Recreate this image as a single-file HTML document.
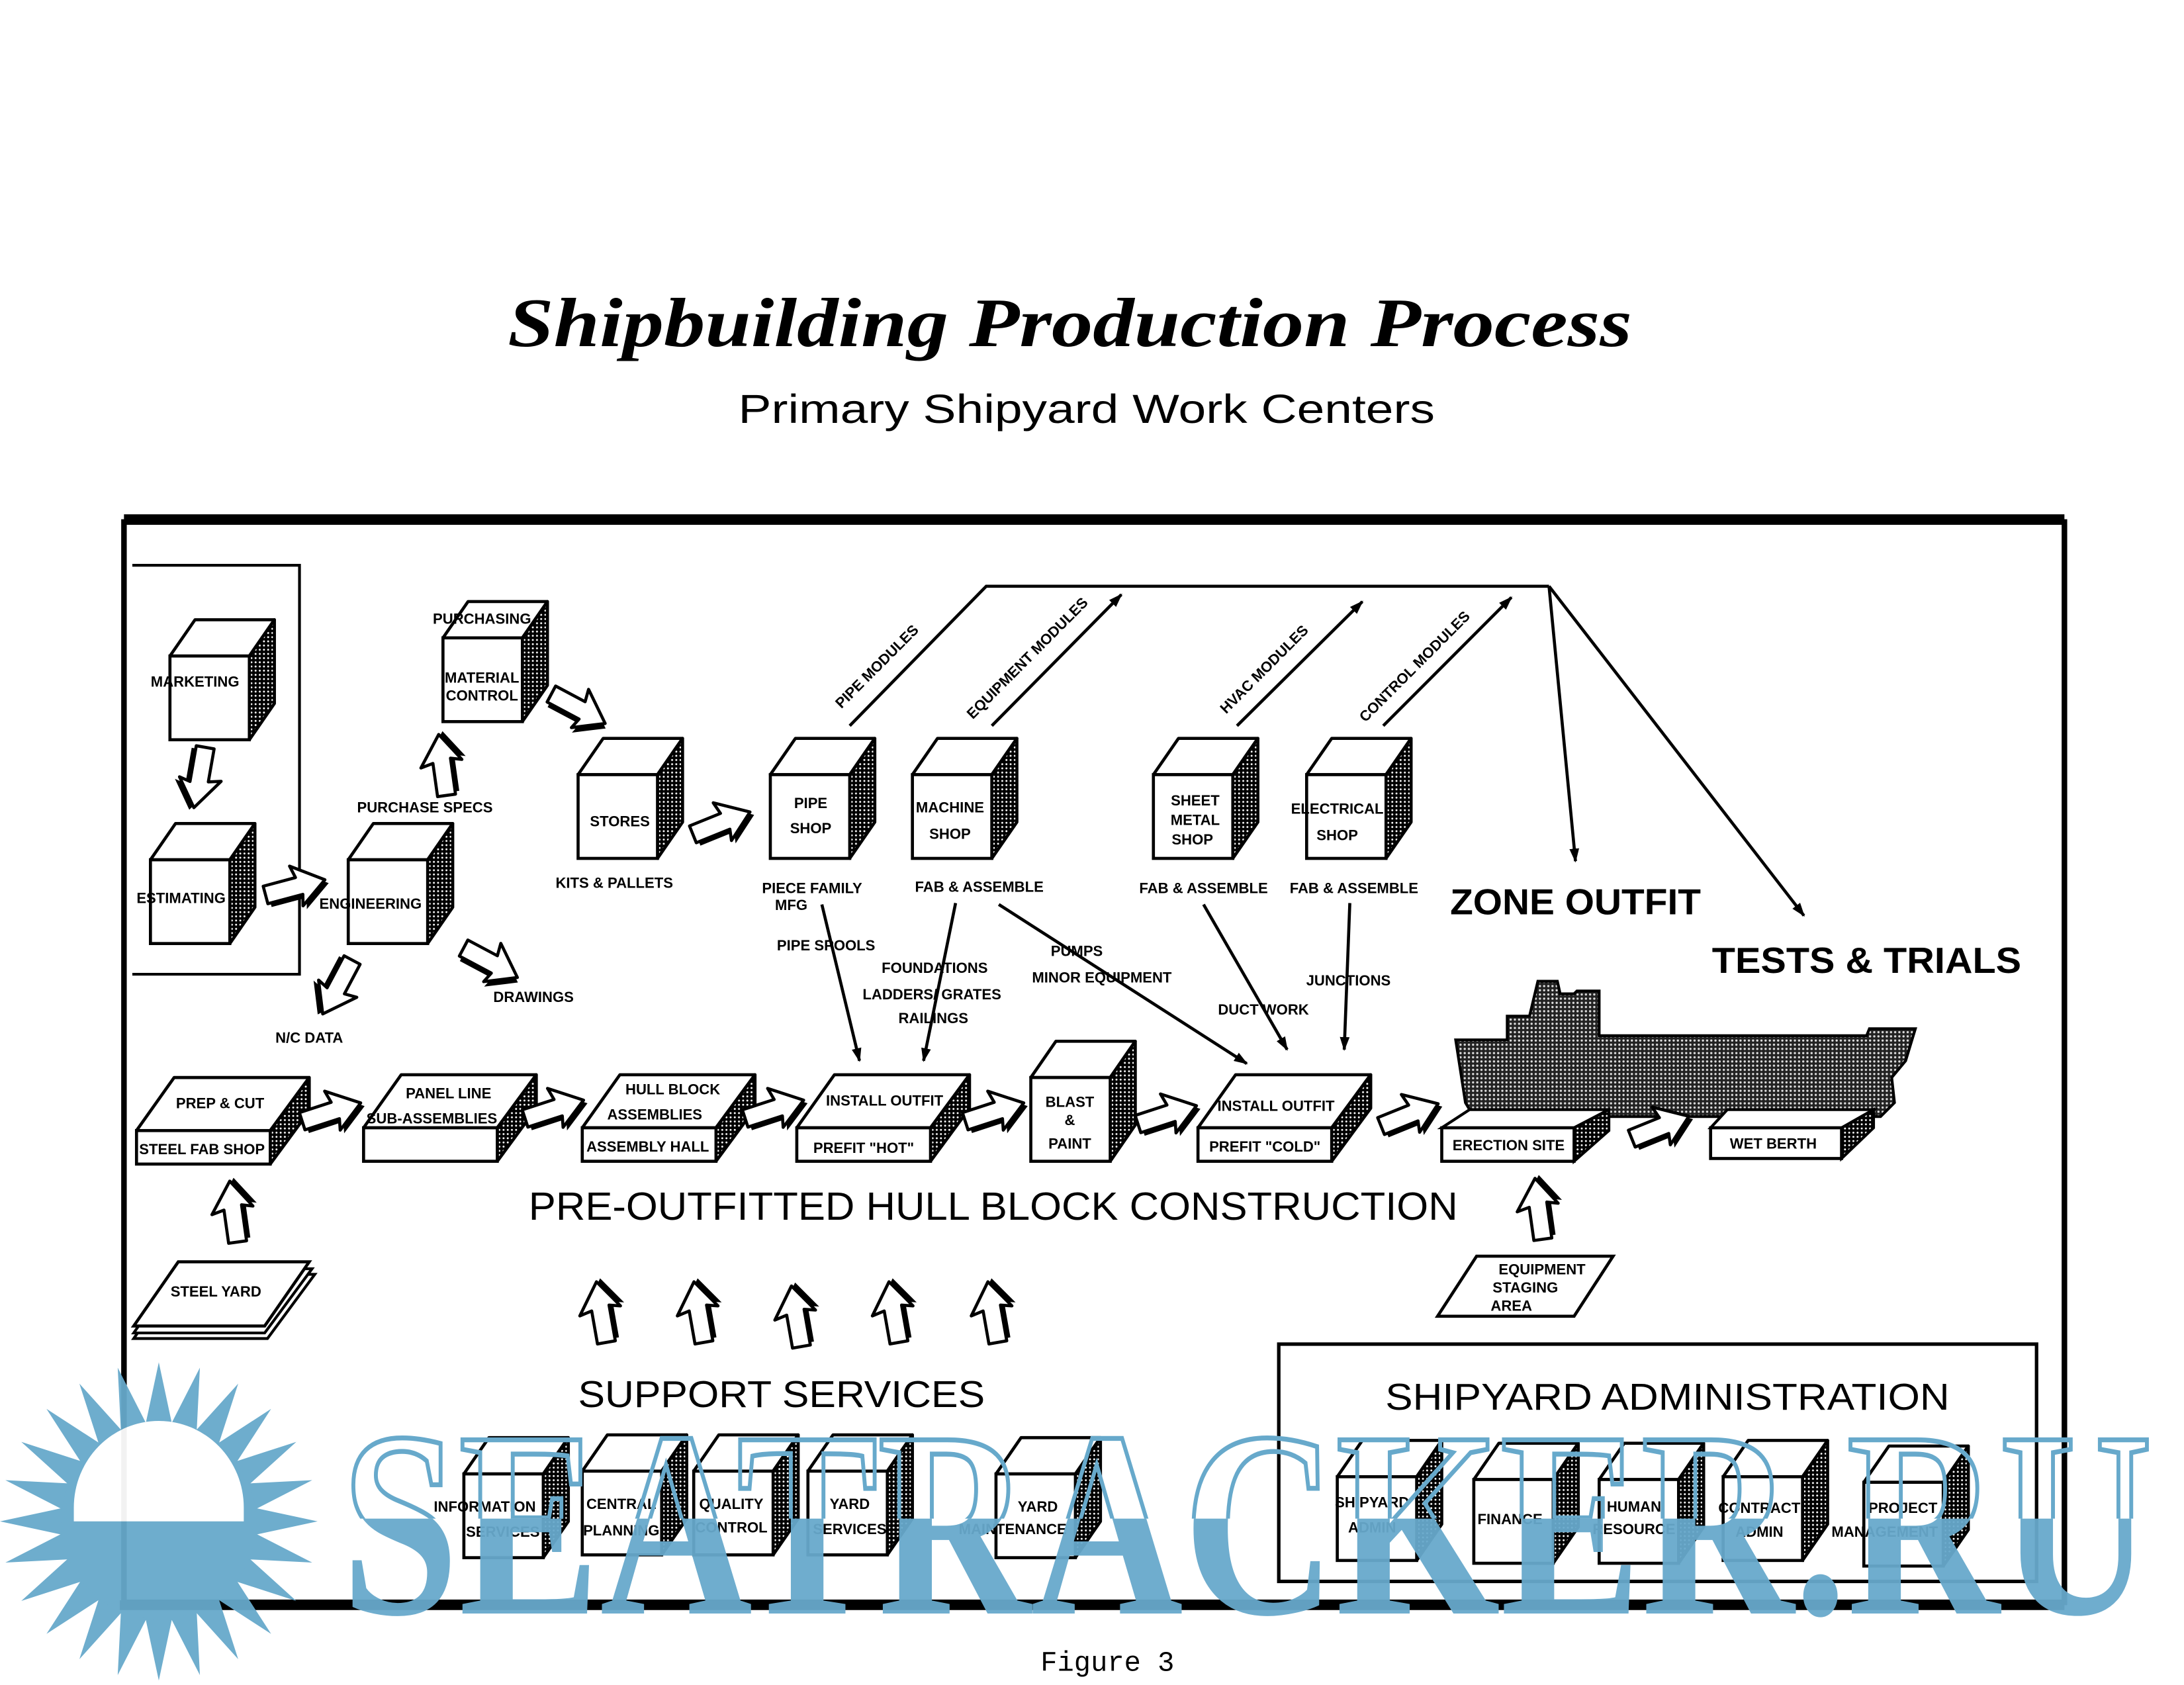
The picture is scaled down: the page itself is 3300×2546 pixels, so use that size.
<!DOCTYPE html>
<html><head><meta charset="utf-8">
<style>
html,body{margin:0;padding:0;background:#fff;}
svg{display:block;}
.l{font-family:"Liberation Sans",sans-serif;font-weight:bold;font-size:10.5px;fill:#000;text-anchor:middle;}
.b{font-family:"Liberation Sans",sans-serif;font-weight:bold;fill:#000;text-anchor:middle;}
.r{font-family:"Liberation Sans",sans-serif;fill:#000;text-anchor:middle;}
</style></head>
<body>
<svg width="3300" height="2546" viewBox="0 0 1560 1203.6" preserveAspectRatio="none" xmlns="http://www.w3.org/2000/svg">
<defs>
<pattern id="dots" width="3" height="3" patternUnits="userSpaceOnUse">
<rect width="3" height="3" fill="#000"/><circle cx="1.5" cy="1.5" r="0.7" fill="#fff"/>
</pattern>
<pattern id="sdots" width="3" height="3" patternUnits="userSpaceOnUse">
<rect width="3" height="3" fill="#222"/><circle cx="1.5" cy="1.5" r="0.8" fill="#ddd"/>
</pattern>
<g id="cube">
<polygon points="0,0 18,-26 75,-26 57,0" fill="#fff" stroke="#000" stroke-width="2.2" stroke-linejoin="round"/>
<polygon points="57,0 75,-26 75,34 57,60" fill="url(#dots)" stroke="#000" stroke-width="2.2" stroke-linejoin="round"/>
<rect x="0" y="0" width="57" height="60" fill="#fff" stroke="#000" stroke-width="2.2"/>
</g>
<g id="slab">
<polygon points="0,0 27,-38 124,-38 96,0" fill="#fff" stroke="#000" stroke-width="2.2" stroke-linejoin="round"/>
<polygon points="96,0 124,-38 124,-14 96,24" fill="url(#dots)" stroke="#000" stroke-width="2.2" stroke-linejoin="round"/>
<rect x="0" y="0" width="96" height="24" fill="#fff" stroke="#000" stroke-width="2.2"/>
</g>
<g id="arr">
<path d="M-20,-4 L4,-4 L2,-13 L24,3 L4,17 L6,9 L-20,9 Z" fill="#000"/>
<path d="M-22,-7 L2,-7 L0,-16 L22,0 L2,14 L4,6 L-22,6 Z" fill="#fff" stroke="#000" stroke-width="2.2" stroke-linejoin="round"/>
</g>
<g id="ray"><polygon points="0,-114 -12,-58 12,-58" fill="#67a9cb"/></g>
<clipPath id="lower"><rect x="0" y="1088" width="1560" height="200"/></clipPath>
<clipPath id="upper"><rect x="0" y="900" width="1560" height="188"/></clipPath>
<marker id="ah" markerWidth="10" markerHeight="10" refX="9" refY="5" orient="auto" markerUnits="userSpaceOnUse">
<path d="M0,1.5 L10,5 L0,8.5 Z" fill="#000"/>
</marker>
</defs>

<rect width="1560" height="1204" fill="#fff"/>
<g transform="scale(0.995,0.997)">

<text x="768" y="248" font-family="Liberation Serif,serif" font-weight="bold" font-style="italic" font-size="50" text-anchor="middle" textLength="807" lengthAdjust="spacingAndGlyphs">Shipbuilding Production Process</text>
<text x="780" y="303" class="r" font-size="29" textLength="500" lengthAdjust="spacingAndGlyphs">Primary Shipyard Work Centers</text>

<rect x="89" y="374" width="1393" height="774" fill="none" stroke="#000" stroke-width="4"/>
<line x1="89" y1="372" x2="1482" y2="372" stroke="#000" stroke-width="7"/>
<line x1="86" y1="1150" x2="1482" y2="1150" stroke="#000" stroke-width="7"/>
<polyline points="95,405 215,405 215,698 95,698" fill="none" stroke="#000" stroke-width="2"/>
<rect x="918" y="963" width="544" height="170" fill="none" stroke="#000" stroke-width="2.5"/>

<g stroke="#000" stroke-width="2.2" fill="none">
<polyline points="610,520 708,420 1112,420"/>
<line x1="712" y1="520" x2="805" y2="426" marker-end="url(#ah)"/>
<line x1="888" y1="520" x2="978" y2="431" marker-end="url(#ah)"/>
<line x1="993" y1="520" x2="1085" y2="428" marker-end="url(#ah)"/>
<line x1="1112" y1="420" x2="1131" y2="617" marker-end="url(#ah)"/>
<line x1="1112" y1="420" x2="1295" y2="656" marker-end="url(#ah)"/>
<line x1="590" y1="648" x2="617" y2="760" marker-end="url(#ah)"/>
<line x1="686" y1="647" x2="663" y2="760" marker-end="url(#ah)"/>
<line x1="717" y1="648" x2="895" y2="762" marker-end="url(#ah)"/>
<line x1="864" y1="648" x2="924" y2="752" marker-end="url(#ah)"/>
<line x1="969" y1="647" x2="965" y2="752" marker-end="url(#ah)"/>
</g>

<g class="l" font-size="10">
<text transform="translate(632,480) rotate(-45)">PIPE MODULES</text>
<text transform="translate(740,474) rotate(-45)">EQUIPMENT MODULES</text>
<text transform="translate(910,482) rotate(-45)">HVAC MODULES</text>
<text transform="translate(1018,480) rotate(-45)">CONTROL MODULES</text>
</g>

<use href="#cube" x="122" y="470"/>
<use href="#cube" x="108" y="616"/>
<use href="#cube" x="250" y="616"/>
<use href="#cube" x="318" y="457"/>
<use href="#cube" x="415" y="555"/>
<use href="#cube" x="553" y="555"/>
<use href="#cube" x="655" y="555"/>
<use href="#cube" x="828" y="555"/>
<use href="#cube" x="938" y="555"/>
<use href="#cube" x="740" y="772"/>
<use href="#cube" x="333" y="1056"/>
<use href="#cube" x="418" y="1054"/>
<use href="#cube" x="498" y="1054"/>
<use href="#cube" x="580" y="1054"/>
<use href="#cube" x="715" y="1056"/>
<use href="#cube" x="960" y="1058"/>
<use href="#cube" x="1058" y="1060"/>
<use href="#cube" x="1148" y="1060"/>
<use href="#cube" x="1237" y="1058"/>
<use href="#cube" x="1338" y="1062"/>

<use href="#slab" x="98" y="810"/>
<use href="#slab" x="261" y="808"/>
<use href="#slab" x="418" y="808"/>
<use href="#slab" x="572" y="808"/>
<use href="#slab" x="860" y="808"/>

<path d="M1045,745 L1082,745 L1082,728 L1098,728 L1104,703 L1118,703 L1120,712 L1130,712 L1132,710 L1148,710 L1148,742 L1340,742 L1342,737 L1375,737 L1368,760 L1358,772 L1360,790 L1350,800 L1058,800 L1052,790 Z" fill="url(#sdots)" stroke="#000" stroke-width="2"/>
<polygon points="1035,808 1055,795 1155,795 1130,808" fill="#fff" stroke="#000" stroke-width="2"/>
<polygon points="1130,808 1155,795 1155,810 1130,832" fill="url(#dots)" stroke="#000" stroke-width="2"/>
<rect x="1035" y="808" width="95" height="24" fill="#fff" stroke="#000" stroke-width="2.2"/>
<polygon points="1228,808 1240,795 1345,795 1322,808" fill="#fff" stroke="#000" stroke-width="2"/>
<polygon points="1322,808 1345,795 1345,808 1322,830" fill="url(#dots)" stroke="#000" stroke-width="2"/>
<rect x="1228" y="808" width="94" height="22" fill="#fff" stroke="#000" stroke-width="2.2"/>

<polygon points="96,959 128,913 226,913 192,959" fill="#fff" stroke="#000" stroke-width="2"/>
<polygon points="96,955 128,909 224,909 190,955" fill="#fff" stroke="#000" stroke-width="2"/>
<polygon points="96,950 128,904 222,904 190,950" fill="#fff" stroke="#000" stroke-width="2.2"/>
<polygon points="1032,943 1060,900 1158,900 1130,943" fill="#fff" stroke="#000" stroke-width="2.2"/>

<use href="#arr" transform="translate(212,636) rotate(-15)"/>
<use href="#arr" transform="translate(415,508) rotate(28)"/>
<use href="#arr" transform="translate(518,590) rotate(-22)"/>
<use href="#arr" transform="translate(352,690) rotate(28)"/>
<use href="#arr" transform="translate(242,707) rotate(118)"/>
<use href="#arr" transform="translate(143,557) rotate(100)"/>
<use href="#arr" transform="translate(318,548) rotate(-98)"/>
<use href="#arr" transform="translate(238,797) rotate(-18)"/>
<use href="#arr" transform="translate(398,795) rotate(-18)"/>
<use href="#arr" transform="translate(556,795) rotate(-18)"/>
<use href="#arr" transform="translate(714,797) rotate(-18)"/>
<use href="#arr" transform="translate(838,799) rotate(-18)"/>
<use href="#arr" transform="translate(1012,799) rotate(-22)"/>
<use href="#arr" transform="translate(1192,808) rotate(-22)"/>
<use href="#arr" transform="translate(168,868) rotate(-98)"/>
<use href="#arr" transform="translate(1105,866) rotate(-98)"/>
<use href="#arr" transform="translate(432,940) rotate(-100)"/>
<use href="#arr" transform="translate(502,940) rotate(-100)"/>
<use href="#arr" transform="translate(572,943) rotate(-100)"/>
<use href="#arr" transform="translate(642,940) rotate(-100)"/>
<use href="#arr" transform="translate(713,940) rotate(-100)"/>

<g class="l">
<text x="140" y="492">MARKETING</text>
<text x="130" y="647">ESTIMATING</text>
<text x="266" y="651">ENGINEERING</text>
<text x="346" y="447">PURCHASING</text>
<text x="346" y="489">MATERIAL</text>
<text x="346" y="502">CONTROL</text>
<text x="305" y="582">PURCHASE SPECS</text>
<text x="445" y="592">STORES</text>
<text x="441" y="636">KITS &amp; PALLETS</text>
<text x="582" y="579">PIPE</text>
<text x="582" y="597">SHOP</text>
<text x="682" y="582">MACHINE</text>
<text x="682" y="601">SHOP</text>
<text x="858" y="577">SHEET</text>
<text x="858" y="591">METAL</text>
<text x="856" y="605">SHOP</text>
<text x="960" y="583">ELECTRICAL</text>
<text x="960" y="602">SHOP</text>
<text x="583" y="640">PIECE FAMILY</text>
<text x="568" y="652">MFG</text>
<text x="703" y="639">FAB &amp; ASSEMBLE</text>
<text x="864" y="640">FAB &amp; ASSEMBLE</text>
<text x="972" y="640">FAB &amp; ASSEMBLE</text>
<text x="593" y="681">PIPE SPOOLS</text>
<text x="671" y="697">FOUNDATIONS</text>
<text x="669" y="716">LADDERS/ GRATES</text>
<text x="670" y="733">RAILINGS</text>
<text x="773" y="685">PUMPS</text>
<text x="791" y="704">MINOR EQUIPMENT</text>
<text x="907" y="727">DUCT WORK</text>
<text x="968" y="706">JUNCTIONS</text>
<text x="383" y="718">DRAWINGS</text>
<text x="222" y="747">N/C DATA</text>
<text x="158" y="794">PREP &amp; CUT</text>
<text x="145" y="827">STEEL FAB SHOP</text>
<text x="322" y="787">PANEL LINE</text>
<text x="310" y="805">SUB-ASSEMBLIES</text>
<text x="483" y="784">HULL BLOCK</text>
<text x="470" y="802">ASSEMBLIES</text>
<text x="465" y="825">ASSEMBLY HALL</text>
<text x="635" y="792">INSTALL OUTFIT</text>
<text x="620" y="826">PREFIT "HOT"</text>
<text x="768" y="793">BLAST</text>
<text x="768" y="806">&amp;</text>
<text x="768" y="823">PAINT</text>
<text x="916" y="796">INSTALL OUTFIT</text>
<text x="908" y="825">PREFIT "COLD"</text>
<text x="1083" y="824">ERECTION SITE</text>
<text x="1273" y="823">WET BERTH</text>
<text x="155" y="929">STEEL YARD</text>
<text x="1107" y="913">EQUIPMENT</text>
<text x="1095" y="926">STAGING</text>
<text x="1085" y="939">AREA</text>
<text x="348" y="1083">INFORMATION</text>
<text x="361" y="1101">SERVICES</text>
<text x="446" y="1081">CENTRAL</text>
<text x="446" y="1100">PLANNING</text>
<text x="525" y="1081">QUALITY</text>
<text x="525" y="1098">CONTROL</text>
<text x="610" y="1081">YARD</text>
<text x="610" y="1099">SERVICES</text>
<text x="745" y="1083">YARD</text>
<text x="727" y="1099">MAINTENANCE</text>
<text x="985" y="1080">SHIPYARD</text>
<text x="985" y="1098">ADMIN</text>
<text x="1084" y="1092">FINANCE</text>
<text x="1173" y="1083">HUMAN</text>
<text x="1173" y="1099">RESOURCE</text>
<text x="1263" y="1084">CONTRACT</text>
<text x="1263" y="1101">ADMIN</text>
<text x="1366" y="1084">PROJECT</text>
<text x="1353" y="1101">MANAGEMENT</text>
</g>

<text x="1131" y="655" class="b" font-size="26" textLength="180" lengthAdjust="spacingAndGlyphs">ZONE OUTFIT</text>
<text x="1340" y="697" class="b" font-size="26" textLength="222" lengthAdjust="spacingAndGlyphs">TESTS &amp; TRIALS</text>
<text x="713" y="874" class="r" font-size="28" textLength="667" lengthAdjust="spacingAndGlyphs">PRE-OUTFITTED HULL BLOCK CONSTRUCTION</text>
<text x="561" y="1008" class="r" font-size="27" textLength="292" lengthAdjust="spacingAndGlyphs">SUPPORT SERVICES</text>
<text x="1197" y="1010" class="r" font-size="27" textLength="405" lengthAdjust="spacingAndGlyphs">SHIPYARD ADMINISTRATION</text>
<text x="795" y="1197" font-family="Liberation Mono,monospace" font-size="20" text-anchor="middle">Figure 3</text>

<g opacity="0.95">
<g transform="translate(114,1090)">
<use href="#ray" transform="rotate(0)"/><use href="#ray" transform="rotate(15)"/><use href="#ray" transform="rotate(30)"/><use href="#ray" transform="rotate(45)"/>
<use href="#ray" transform="rotate(60)"/><use href="#ray" transform="rotate(75)"/><use href="#ray" transform="rotate(90)"/><use href="#ray" transform="rotate(105)"/>
<use href="#ray" transform="rotate(120)"/><use href="#ray" transform="rotate(135)"/><use href="#ray" transform="rotate(150)"/><use href="#ray" transform="rotate(165)"/>
<use href="#ray" transform="rotate(180)"/><use href="#ray" transform="rotate(195)"/><use href="#ray" transform="rotate(210)"/><use href="#ray" transform="rotate(225)"/>
<use href="#ray" transform="rotate(240)"/><use href="#ray" transform="rotate(255)"/><use href="#ray" transform="rotate(270)"/><use href="#ray" transform="rotate(285)"/>
<use href="#ray" transform="rotate(300)"/><use href="#ray" transform="rotate(315)"/><use href="#ray" transform="rotate(330)"/><use href="#ray" transform="rotate(345)"/>
<circle r="70" fill="#67a9cb"/>
<path d="M-61,0 L-61,-10 A61,62 0 0 1 61,-10 L61,0 Z" fill="#fff"/>
</g>
</g>
<g font-family="Liberation Serif,serif" font-weight="bold" font-size="190">
<text x="245" y="1156" textLength="1300" lengthAdjust="spacingAndGlyphs" fill="none" stroke="#67a9cb" stroke-width="3.5" clip-path="url(#upper)">SEATRACKER.RU</text>
<text x="245" y="1156" textLength="1300" lengthAdjust="spacingAndGlyphs" fill="#67a9cb" fill-opacity="0.95" clip-path="url(#lower)">SEATRACKER.RU</text>
</g>
</g>
</svg>
</body></html>
